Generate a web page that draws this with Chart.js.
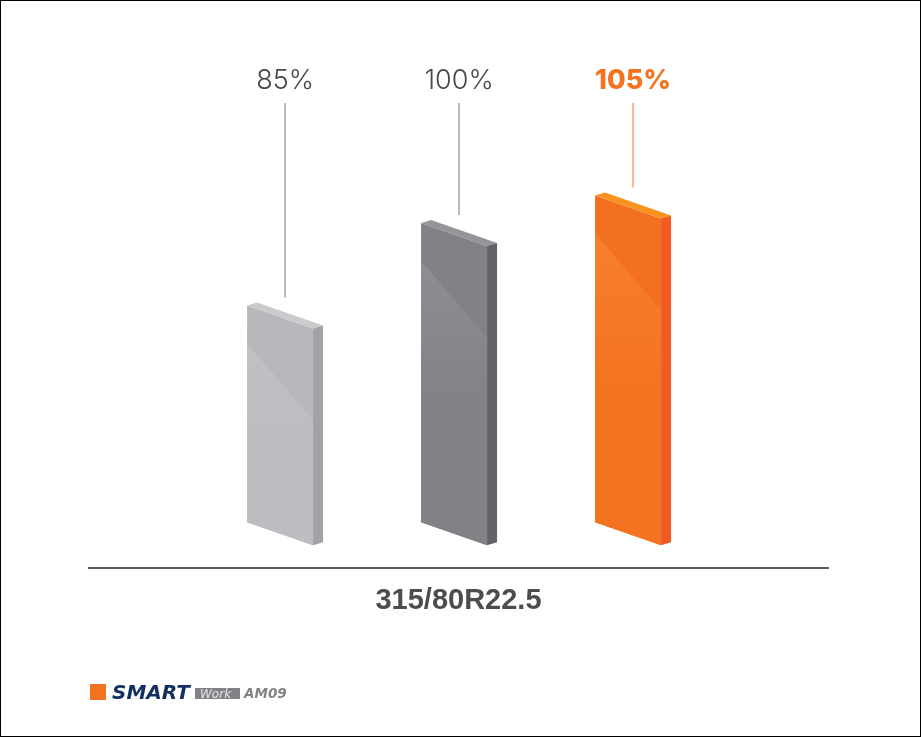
<!DOCTYPE html>
<html>
<head>
<meta charset="utf-8">
<title>315/80R22.5</title>
<script src="https://cdn.jsdelivr.net/npm/chart.js@4/dist/chart.umd.min.js"></script>
<style>
  html, body { margin: 0; padding: 0; background: #fff; }
  canvas { display: block; outline: 1px solid #000; outline-offset: -1px; }
</style>
</head>
<body>
<canvas id="mileageChart" width="921" height="737"></canvas>
<script>
var positions = [0, 1, 2];
var values = [85, 100, 105];
var labels = ['85%', '100%', '105%'];
var baseValue = 45.64;
var sizeLabel = '315/80R22.5';

var topColors = ['#c9cbcd', '#939598', '#f9931f'];
var upperColors = ['#b6b8bb', '#808285', '#f47021'];
var lightColors = ['#bfc1c4', '#8d8e91', '#f67f2e'];
var footColors = ['#bbbdc0', '#808285', '#f47320'];
var sideColors = ['#a0a2a5', '#636366', '#f15a22'];
var leaderColors = ['#9a9b9e', '#9a9b9e', '#f49a68'];
var labelColors = ['#46474a', '#46474a', '#f47320'];
var labelFonts = ['300 27px Inter', '300 27px Inter', '800 27px Inter'];

function poly(ctx, color, pts) {
    ctx.fillStyle = color;
    ctx.beginPath();
    ctx.moveTo(pts[0][0], pts[0][1]);
    for (var i = 1; i < pts.length; i++) ctx.lineTo(pts[i][0], pts[i][1]);
    ctx.closePath();
    ctx.fill();
}

// the bars are isometric slabs, so paint them from each bar element's own box
var slabs = {
    id: 'slabs',
    afterDatasetsDraw: function (chart) {
        var ctx = chart.ctx;
        var bars = chart.getDatasetMeta(0).data;
        var shear = 23, depth = 10, rise = 3;
        ctx.save();
        bars.forEach(function (bar, i) {
            var l = bar.x - bar.width / 2, r = bar.x + bar.width / 2;
            var t = bar.y, b = bar.base;
            poly(ctx, upperColors[i], [[l, t], [r, t + shear], [r, b + shear], [l, b]]);
            // soft highlight under the diagonal, gone by about half way down
            var glow = ctx.createLinearGradient(l, t + 38, l, b);
            glow.addColorStop(0, lightColors[i]);
            glow.addColorStop(0.55, footColors[i]);
            glow.addColorStop(1, footColors[i]);
            poly(ctx, glow, [[l, t + 38], [r, t + 115], [r, b + shear], [l, b]]);
            poly(ctx, topColors[i], [[l, t], [l + depth, t - rise], [r + depth, t + shear - rise], [r, t + shear]]);
            poly(ctx, sideColors[i], [[r, t + shear], [r + depth, t + shear - rise], [r + depth, b + shear - rise], [r, b + shear]]);

            var cx = bar.x + 5;
            ctx.strokeStyle = leaderColors[i];
            ctx.lineWidth = 1.4;
            ctx.beginPath();
            ctx.moveTo(cx, 103);
            ctx.lineTo(cx, t - 8);
            ctx.stroke();

            ctx.fillStyle = labelColors[i];
            ctx.font = labelFonts[i];
            ctx.textAlign = 'center';
            ctx.textBaseline = 'middle';
            ctx.fillText(labels[i], cx, 81);
        });
        ctx.restore();
    }
};

// product mark under the chart
var brand = {
    id: 'brand',
    afterDraw: function (chart) {
        var ctx = chart.ctx;
        ctx.save();
        ctx.textBaseline = 'alphabetic';
        ctx.textAlign = 'left';
        ctx.fillStyle = '#f47320';
        ctx.fillRect(90, 684, 16, 16);
        ctx.fillStyle = '#12305f';
        ctx.font = 'italic bold 20px "DejaVu Sans"';
        ctx.fillText('SMART', 112, 699);
        ctx.fillStyle = '#808285';
        ctx.fillRect(195, 688, 45, 11);
        ctx.fillStyle = '#e6e6e6';
        ctx.font = 'italic 12px "DejaVu Sans"';
        ctx.fillText('Work', 200, 698);
        ctx.fillStyle = '#808285';
        ctx.font = 'italic bold 13.5px "DejaVu Sans"';
        ctx.fillText('AM09', 244, 698);
        ctx.restore();
    }
};

new Chart(document.getElementById('mileageChart').getContext('2d'), {
    type: 'bar',
    data: {
        datasets: [{
            data: values.map(function (v, i) { return { x: positions[i], y: [baseValue, v] }; }),
            backgroundColor: 'rgba(0,0,0,0)',
            barThickness: 66
        }]
    },
    options: {
        responsive: false,
        animation: false,
        events: [],
        layout: { padding: { left: 89, right: 93, top: 100, bottom: 118 } },
        plugins: { legend: { display: false }, tooltip: { enabled: false } },
        scales: {
            x: {
                type: 'linear',
                offset: false,
                min: -1.098,
                max: 3.149,
                ticks: { display: false },
                grid: { display: false },
                border: { color: '#58595b', width: 2 },
                title: {
                    display: true,
                    text: sizeLabel,
                    color: '#4d4d4f',
                    font: { family: 'Liberation Sans', size: 29, weight: 'bold' },
                    padding: { top: 7, bottom: 1 }
                }
            },
            y: { display: false, min: 37.27, max: 122.36 }
        }
    },
    plugins: [slabs, brand]
});
</script>
</body>
</html>
